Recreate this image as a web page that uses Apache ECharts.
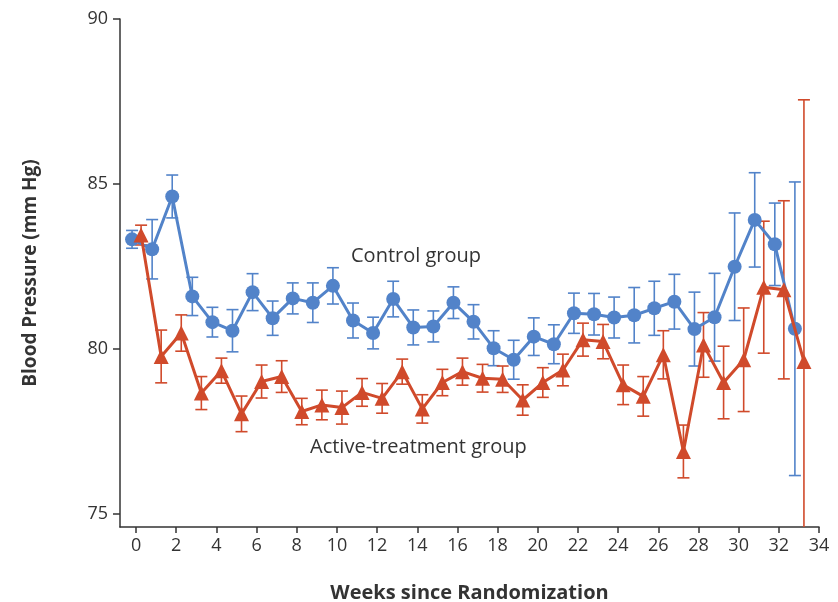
<!DOCTYPE html>
<html>
<head>
<meta charset="utf-8">
<script src="https://cdn.jsdelivr.net/npm/echarts@6/dist/echarts.min.js"></script>
<style>
  html, body { margin: 0; padding: 0; background: #fff; }
  #bp_chart { width: 838px; height: 602px; }
</style>
</head>
<body>
<div id="bp_chart"></div>
<script>
// data (weeks since randomization, mean BP and half error bar)
var weeks = [0, 1, 2, 3, 4, 5, 6, 7, 8, 9, 10, 11, 12, 13, 14, 15, 16, 17, 18, 19, 20, 21, 22, 23, 24, 25, 26, 27, 28, 29, 30, 31, 32, 33];
var controlMean = [83.32, 83.02, 84.62, 81.59, 80.81, 80.55, 81.72, 80.93, 81.53, 81.40, 81.91, 80.86, 80.48, 81.51, 80.65, 80.68, 81.40, 80.82, 80.02, 79.67, 80.37, 80.14, 81.08, 81.05, 80.95, 81.02, 81.23, 81.43, 80.60, 80.96, 82.49, 83.91, 83.17, 80.61];
var controlErr = [0.27, 0.90, 0.65, 0.58, 0.45, 0.64, 0.56, 0.52, 0.47, 0.60, 0.55, 0.53, 0.48, 0.54, 0.53, 0.47, 0.48, 0.52, 0.53, 0.59, 0.57, 0.59, 0.61, 0.63, 0.62, 0.84, 0.82, 0.83, 1.12, 1.33, 1.63, 1.43, 1.25, 4.45];
var activeMean = [83.45, 79.77, 80.48, 78.66, 79.34, 78.03, 79.01, 79.16, 78.10, 78.30, 78.22, 78.68, 78.50, 79.31, 78.18, 78.98, 79.31, 79.11, 79.08, 78.45, 78.98, 79.36, 80.28, 80.22, 78.91, 78.56, 79.82, 76.89, 80.12, 78.98, 79.67, 81.87, 81.79, 79.62];
var activeErr = [0.30, 0.80, 0.55, 0.50, 0.38, 0.54, 0.50, 0.48, 0.40, 0.45, 0.50, 0.42, 0.45, 0.38, 0.43, 0.40, 0.41, 0.42, 0.40, 0.46, 0.45, 0.48, 0.50, 0.52, 0.60, 0.60, 0.73, 0.80, 0.98, 1.10, 1.57, 2.00, 2.70, 7.93];
var xTicks = [0, 2, 4, 6, 8, 10, 12, 14, 16, 18, 20, 22, 24, 26, 28, 30, 32, 34];
var yTicks = [75, 80, 85, 90];

var BLUE = '#5283c9';
var RED = '#d04a2b';
var TEXT = '#333333';
var FONT = '"Open Sans", sans-serif';
var Y_MIN = 74.6;

// the two groups are dodged a little around each week
var CONTROL_SHIFT = -0.2;
var ACTIVE_SHIFT = 0.25;

function linePoints(mean, shift) {
    return weeks.map(function (w, i) { return [w + shift, mean[i]]; });
}
function errPoints(mean, err, shift) {
    return weeks.map(function (w, i) { return [w + shift, mean[i] - err[i], mean[i] + err[i]]; });
}
function errorBarRenderer(color) {
    return function (params, api) {
        var x = api.value(0);
        var lowVal = api.value(1);
        var clipped = lowVal < Y_MIN;
        var hi = api.coord([x, api.value(2)]);
        var lo = api.coord([x, clipped ? Y_MIN : lowVal]);
        var hw = 6;
        var style = { stroke: color, lineWidth: 1.6 };
        var children = [
            { type: 'line', shape: { x1: hi[0], y1: hi[1], x2: lo[0], y2: lo[1] }, style: style },
            { type: 'line', shape: { x1: hi[0] - hw, y1: hi[1], x2: hi[0] + hw, y2: hi[1] }, style: style }
        ];
        if (!clipped) {
            children.push({ type: 'line', shape: { x1: lo[0] - hw, y1: lo[1], x2: lo[0] + hw, y2: lo[1] }, style: style });
        }
        return { type: 'group', children: children };
    };
}

var bp_chart = echarts.init(document.getElementById('bp_chart'));
var bp_option = {
    animation: false,
    backgroundColor: '#ffffff',
    grid: {
        left: 120,
        right: 19,
        top: 19,
        bottom: 75,
        containLabel: false,
        outerBoundsMode: 'none'
    },
    xAxis: {
        type: 'value',
        min: -0.8,
        max: 34,
        name: 'Weeks since Randomization',
        nameLocation: 'middle',
        nameGap: 56,
        nameTextStyle: { color: TEXT, fontSize: 20, fontWeight: 'bold', fontFamily: FONT },
        axisLine: { onZero: false, lineStyle: { color: TEXT, width: 1.5 } },
        axisTick: { customValues: xTicks, length: 6, lineStyle: { color: TEXT, width: 1.5 } },
        axisLabel: { customValues: xTicks, color: TEXT, fontSize: 18, fontFamily: FONT, margin: 10 },
        splitLine: { show: false }
    },
    yAxis: {
        type: 'value',
        min: Y_MIN,
        max: 90,
        name: 'Blood Pressure (mm Hg)',
        nameLocation: 'middle',
        nameGap: 80,
        nameTextStyle: { color: TEXT, fontSize: 19, fontWeight: 'bold', fontFamily: FONT },
        axisLine: { show: true, onZero: false, lineStyle: { color: TEXT, width: 1.5 } },
        axisTick: { show: true, customValues: yTicks, length: 7, lineStyle: { color: TEXT, width: 1.5 } },
        axisLabel: { customValues: yTicks, color: TEXT, fontSize: 18, fontFamily: FONT, margin: 12 },
        splitLine: { show: false }
    },
    graphic: [
        { type: 'text', left: 351, top: 246, style: { text: 'Control group', fill: TEXT, font: '20px "Open Sans", sans-serif' } },
        { type: 'text', left: 310, top: 437, style: { text: 'Active-treatment group', fill: TEXT, font: '20px "Open Sans", sans-serif' } }
    ],
    series: [
        {
            name: 'Control error',
            type: 'custom',
            renderItem: errorBarRenderer(BLUE),
            data: errPoints(controlMean, controlErr, CONTROL_SHIFT),
            z: 1
        },
        {
            name: 'Active error',
            type: 'custom',
            renderItem: errorBarRenderer(RED),
            data: errPoints(activeMean, activeErr, ACTIVE_SHIFT),
            z: 1
        },
        {
            name: 'Control group',
            type: 'line',
            data: linePoints(controlMean, CONTROL_SHIFT),
            symbol: 'circle',
            symbolSize: 14,
            itemStyle: { color: BLUE },
            lineStyle: { color: BLUE, width: 3 },
            z: 3
        },
        {
            name: 'Active-treatment group',
            type: 'line',
            data: linePoints(activeMean, ACTIVE_SHIFT),
            symbol: 'triangle',
            symbolSize: 15,
            itemStyle: { color: RED },
            lineStyle: { color: RED, width: 3 },
            z: 4
        }
    ]
};
bp_chart.setOption(bp_option);
window.addEventListener('resize', function () {
    bp_chart.resize();
});
</script>
</body>
</html>
